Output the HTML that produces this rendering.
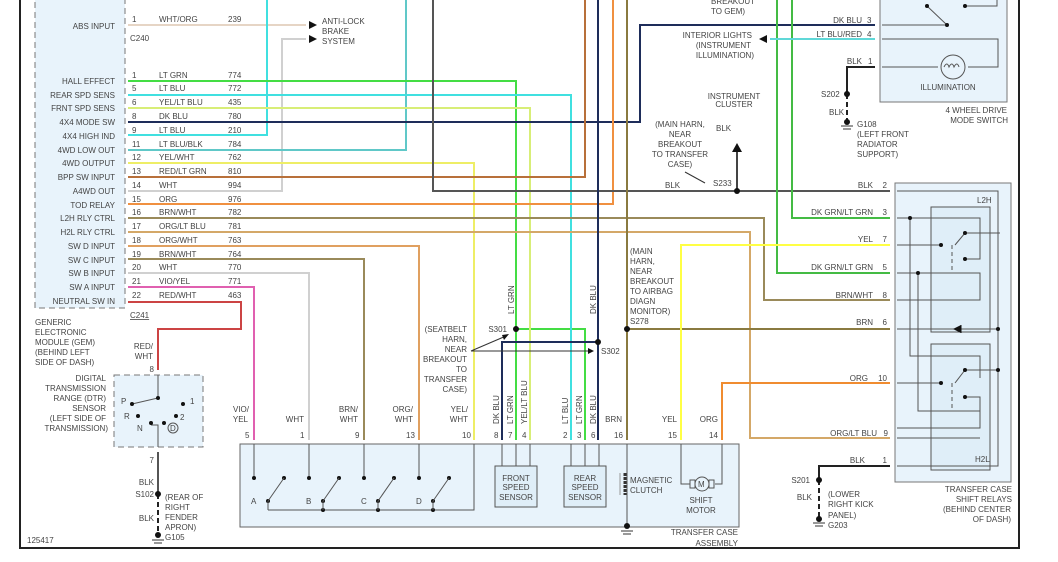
<!DOCTYPE html>
<html><head><meta charset="utf-8"><style>
html,body{margin:0;padding:0;background:#fff;width:1058px;height:562px;overflow:hidden}
svg{display:block}
text{font-family:"Liberation Sans",sans-serif;font-size:8px;fill:#444}
.w{fill:none;stroke-width:2}
.t{fill:none;stroke:#555;stroke-width:1}
</style></head><body>
<svg width="1058" height="562" viewBox="0 0 1058 562" xmlns="http://www.w3.org/2000/svg">
<path d="M20 0V548H1019V0" fill="none" stroke="#222" stroke-width="2"/>
<rect x="35" y="-2" width="90" height="310" fill="#e8f3fb" stroke="#777" stroke-dasharray="6,4"/>
<g text-anchor="end">
<text x="115" y="29">ABS INPUT</text>
<text x="115" y="84">HALL EFFECT</text><text x="115" y="98">REAR SPD SENS</text><text x="115" y="111">FRNT SPD SENS</text>
<text x="115" y="125">4X4 MODE SW</text><text x="115" y="139">4X4 HIGH IND</text><text x="115" y="153">4WD LOW OUT</text>
<text x="115" y="166">4WD OUTPUT</text><text x="115" y="180">BPP SW INPUT</text><text x="115" y="194">A4WD OUT</text>
<text x="115" y="208">TOD RELAY</text><text x="115" y="221">L2H RLY CTRL</text><text x="115" y="235">H2L RLY CTRL</text>
<text x="115" y="249">SW D INPUT</text><text x="115" y="263">SW C INPUT</text><text x="115" y="276">SW B INPUT</text>
<text x="115" y="290">SW A INPUT</text><text x="115" y="304">NEUTRAL SW IN</text>
</g>
<text x="130" y="41">C240</text><text x="130" y="318" text-decoration="underline">C241</text>
<g>
<text x="132" y="22">1</text><text x="159" y="22">WHT/ORG</text><text x="228" y="22">239</text>
<text x="132" y="78">1</text><text x="159" y="78">LT GRN</text><text x="228" y="78">774</text>
<text x="132" y="91">5</text><text x="159" y="91">LT BLU</text><text x="228" y="91">772</text>
<text x="132" y="105">6</text><text x="159" y="105">YEL/LT BLU</text><text x="228" y="105">435</text>
<text x="132" y="119">8</text><text x="159" y="119">DK BLU</text><text x="228" y="119">780</text>
<text x="132" y="133">9</text><text x="159" y="133">LT BLU</text><text x="228" y="133">210</text>
<text x="132" y="147">11</text><text x="159" y="147">LT BLU/BLK</text><text x="228" y="147">784</text>
<text x="132" y="160">12</text><text x="159" y="160">YEL/WHT</text><text x="228" y="160">762</text>
<text x="132" y="174">13</text><text x="159" y="174">RED/LT GRN</text><text x="228" y="174">810</text>
<text x="132" y="188">14</text><text x="159" y="188">WHT</text><text x="228" y="188">994</text>
<text x="132" y="202">15</text><text x="159" y="202">ORG</text><text x="228" y="202">976</text>
<text x="132" y="215">16</text><text x="159" y="215">BRN/WHT</text><text x="228" y="215">782</text>
<text x="132" y="229">17</text><text x="159" y="229">ORG/LT BLU</text><text x="228" y="229">781</text>
<text x="132" y="243">18</text><text x="159" y="243">ORG/WHT</text><text x="228" y="243">763</text>
<text x="132" y="257">19</text><text x="159" y="257">BRN/WHT</text><text x="228" y="257">764</text>
<text x="132" y="270">20</text><text x="159" y="270">WHT</text><text x="228" y="270">770</text>
<text x="132" y="284">21</text><text x="159" y="284">VIO/YEL</text><text x="228" y="284">771</text>
<text x="132" y="298">22</text><text x="159" y="298">RED/WHT</text><text x="228" y="298">463</text>
</g>
<text x="35" y="325">GENERIC</text><text x="35" y="335">ELECTRONIC</text><text x="35" y="345">MODULE (GEM)</text><text x="35" y="355">(BEHIND LEFT</text><text x="35" y="365">SIDE OF DASH)</text>

<path class="w" stroke="#e6d5c5" d="M128 25H306"/>
<path class="w" stroke="#d0d0d0" d="M128 191H282V39H306"/>
<path class="w" stroke="#40e0e0" d="M128 135H267V0"/>
<path class="w" stroke="#60c8c8" d="M128 150H406V0"/>
<path class="w" stroke="#44dd44" d="M128 81H516V329H585V440"/>
<path class="w" stroke="#44dd44" d="M516 329V440"/>
<path class="w" stroke="#40e0e0" d="M128 95H571V440"/>
<path class="w" stroke="#d8ee77" d="M128 108H530V440"/>
<path class="w" stroke="#1e2d5a" d="M128 122H640V25H875"/>
<path class="w" stroke="#eeee66" d="M128 163H474V440"/>
<path class="w" stroke="#b8703a" d="M128 177H585V0"/>
<path class="w" stroke="#f09040" d="M128 204H613V0"/>
<path class="w" stroke="#9a8a5a" d="M128 218H764V300H890"/>
<path class="w" stroke="#d4a868" d="M128 232H750V438H890"/>
<path class="w" stroke="#e0a060" d="M128 246H419V440"/>
<path class="w" stroke="#9a8a5a" d="M128 259H364V440"/>
<path class="w" stroke="#d0d0d0" d="M128 273H309V440"/>
<path class="w" stroke="#e060b0" d="M128 287H254V440"/>
<path class="w" stroke="#cc4444" d="M128 302H241V329H158V370"/>
<path class="w" stroke="#555" d="M433 0V191H890"/>
<path class="w" stroke="#8a7a40" d="M627 0V440M627 329H890"/>
<path class="w" stroke="#1e2d5a" d="M598 0V440M598 342H502V440"/>
<path class="w" stroke="#44bb44" d="M777 0V273H890M792 0V218H890"/>
<path class="w" stroke="#ffff44" d="M890 245H681V440"/>
<path class="w" stroke="#f08c30" d="M890 383H722V440"/>
<path class="w" stroke="#60d8d8" d="M875 39H770"/>
<path class="w" stroke="#222" d="M875 67H847V94M890 466H819V480"/>
<path d="M847 94V122M819 480V519M158 494V535" stroke="#222" stroke-width="2" stroke-dasharray="5,3"/>
<path class="w" stroke="#555" d="M158 452V494"/>
<path class="w" stroke="#444" d="M737 191V150"/>
<polygon points="737,143 732,152 742,152" fill="#111"/>
<polygon points="309,21 317,25 309,29" fill="#111"/><polygon points="309,35 317,39 309,43" fill="#111"/>
<polygon points="767,35 759,39 767,43" fill="#111"/>
<g fill="#111"><circle cx="516" cy="329" r="3"/><circle cx="598" cy="342" r="3"/><circle cx="627" cy="329" r="3"/><circle cx="737" cy="191" r="3"/><circle cx="847" cy="94" r="3"/><circle cx="819" cy="480" r="3"/><circle cx="158" cy="494" r="3"/><circle cx="847" cy="122" r="3"/><circle cx="819" cy="519" r="3"/><circle cx="158" cy="535" r="3"/></g>
<path d="M841 126h12M843 129h8M813 523h12M815 526h8M152 540h12M154 543h8M621 531h12M623 534h8" stroke="#333"/>
<text x="322" y="24">ANTI-LOCK</text><text x="322" y="34">BRAKE</text><text x="322" y="44">SYSTEM</text>
<text x="711" y="4">BREAKOUT</text><text x="711" y="14">TO GEM)</text>
<text x="752" y="38" text-anchor="end">INTERIOR LIGHTS</text><text x="751" y="48" text-anchor="end">(INSTRUMENT</text><text x="754" y="58" text-anchor="end">ILLUMINATION)</text>
<text x="734" y="99" text-anchor="middle">INSTRUMENT</text><text x="734" y="107" text-anchor="middle">CLUSTER</text>
<text x="716" y="131">BLK</text>
<g text-anchor="middle"><text x="680" y="127">(MAIN HARN,</text><text x="680" y="137">NEAR</text><text x="680" y="147">BREAKOUT</text><text x="680" y="157">TO TRANSFER</text><text x="680" y="167">CASE)</text></g>
<path d="M685 172L705 183" stroke="#333"/>
<text x="665" y="188">BLK</text><text x="713" y="186">S233</text>
<text x="862" y="23" text-anchor="end">DK BLU</text><text x="867" y="23">3</text>
<text x="862" y="37" text-anchor="end">LT BLU/RED</text><text x="867" y="37">4</text>
<text x="862" y="64" text-anchor="end">BLK</text><text x="868" y="64">1</text>
<text x="821" y="97">S202</text><text x="829" y="115">BLK</text>
<text x="857" y="127">G108</text><text x="857" y="137">(LEFT FRONT</text><text x="857" y="147">RADIATOR</text><text x="857" y="157">SUPPORT)</text>
<rect x="880" y="-2" width="127" height="104" fill="#e8f3fb" stroke="#777"/>
<path class="t" d="M882 25H947M882 39H998V67H968M882 67H938M927 6L947 25M965 6H997V-2"/>
<circle cx="927" cy="6" r="2" fill="#111"/><circle cx="947" cy="25" r="2" fill="#111"/><circle cx="965" cy="6" r="2" fill="#111"/>
<circle cx="953" cy="67" r="12" fill="none" stroke="#555"/>
<path d="M944 67q3-6 5 0q3-6 5 0q3-6 5 0" fill="none" stroke="#555"/>
<text x="948" y="90" text-anchor="middle">ILLUMINATION</text>
<text x="1007" y="113" text-anchor="end">4 WHEEL DRIVE</text><text x="1008" y="123" text-anchor="end">MODE SWITCH</text>
<rect x="895" y="183" width="116" height="299" fill="#e8f3fb" stroke="#777"/>
<rect x="931" y="207" width="59" height="125" fill="#dfeef8" stroke="#555"/>
<rect x="931" y="344" width="59" height="126" fill="#dfeef8" stroke="#555"/>
<path class="t" d="M897 191H998V466H897M897 218H980V259H965M897 245H941M897 273H980V300H897M897 300H941M955 245L965 233H1000M897 329H998M897 383H941M955 383L965 370H998M965 397H980V428H897M897 438H980M910 218V356H980V378M918 273V411H980"/>
<path d="M953 329l8-4v8z" fill="#111"/><path d="M961 325v8" stroke="#111"/>
<path d="M952 245v28M952 383v28" stroke="#555" stroke-dasharray="4,3"/>
<g fill="#111"><circle cx="941" cy="245" r="2"/><circle cx="965" cy="233" r="2"/><circle cx="965" cy="259" r="2"/><circle cx="910" cy="218" r="2"/><circle cx="918" cy="273" r="2"/><circle cx="998" cy="329" r="2"/><circle cx="941" cy="383" r="2"/><circle cx="965" cy="370" r="2"/><circle cx="965" cy="397" r="2"/><circle cx="998" cy="370" r="2"/></g>
<text x="977" y="203">L2H</text><text x="975" y="462">H2L</text>
<g text-anchor="end"><text x="873" y="188">BLK</text><text x="873" y="215">DK GRN/LT GRN</text><text x="873" y="242">YEL</text><text x="873" y="270">DK GRN/LT GRN</text><text x="873" y="298">BRN/WHT</text><text x="873" y="325">BRN</text><text x="868" y="381">ORG</text><text x="877" y="436">ORG/LT BLU</text><text x="865" y="463">BLK</text>
<text x="887" y="188">2</text><text x="887" y="215">3</text><text x="887" y="242">7</text><text x="887" y="270">5</text><text x="887" y="298">8</text><text x="887" y="325">6</text><text x="887" y="381">10</text><text x="888" y="436">9</text><text x="887" y="463">1</text>
<text x="1012" y="492">TRANSFER CASE</text><text x="1012" y="502">SHIFT RELAYS</text><text x="1011" y="512">(BEHIND CENTER</text><text x="1011" y="522">OF DASH)</text>
<text x="810" y="483">S201</text><text x="812" y="500">BLK</text></g>
<text x="828" y="497">(LOWER</text><text x="828" y="507">RIGHT KICK</text><text x="828" y="518">PANEL)</text><text x="828" y="528">G203</text>
<text x="630" y="254">(MAIN</text><text x="630" y="264">HARN,</text><text x="630" y="274">NEAR</text><text x="630" y="284">BREAKOUT</text><text x="630" y="294">TO AIRBAG</text><text x="630" y="304">DIAGN</text><text x="630" y="314">MONITOR)</text><text x="630" y="324">S278</text>
<text x="507" y="332" text-anchor="end">S301</text><text x="601" y="354">S302</text>
<g text-anchor="end"><text x="467" y="332">(SEATBELT</text><text x="467" y="342">HARN,</text><text x="467" y="352">NEAR</text><text x="467" y="362">BREAKOUT</text><text x="467" y="372">TO</text><text x="467" y="382">TRANSFER</text><text x="467" y="392">CASE)</text></g>
<path d="M471 351L506 336M471 351H590" stroke="#333"/>
<polygon points="509,334 502,335 504,340" fill="#111"/><polygon points="594,351 588,348 588,354" fill="#111"/>
<text transform="translate(514,314) rotate(-90)">LT GRN</text><text transform="translate(596,314) rotate(-90)">DK BLU</text>
<rect x="240" y="444" width="499" height="83" fill="#e8f3fb" stroke="#666"/>
<g class="t"><path d="M254 444V478M309 444V478M364 444V478M419 444V478M474 444V510H268M502 444V466M516 444V466M530 444V466M571 444V466M585 444V466M599 444V466M627 444V526M681 444V484H690M715 484H722V444"/></g>
<g fill="#111"><circle cx="254" cy="478" r="2"/><circle cx="309" cy="478" r="2"/><circle cx="364" cy="478" r="2"/><circle cx="419" cy="478" r="2"/><circle cx="268" cy="501" r="2"/><circle cx="284" cy="478" r="2"/><circle cx="323" cy="501" r="2"/><circle cx="339" cy="478" r="2"/><circle cx="378" cy="501" r="2"/><circle cx="394" cy="478" r="2"/><circle cx="433" cy="501" r="2"/><circle cx="449" cy="478" r="2"/><circle cx="323" cy="510" r="2"/><circle cx="378" cy="510" r="2"/><circle cx="433" cy="510" r="2"/><circle cx="627" cy="526" r="3"/></g>
<path class="t" d="M268 501L284 478M323 501V510M378 501V510M433 501V510M268 501V510M323 501L339 478M378 501L394 478M433 501L449 478"/>
<text x="251" y="504">A</text><text x="306" y="504">B</text><text x="361" y="504">C</text><text x="416" y="504">D</text>
<rect x="495" y="466" width="42" height="41" fill="#dfeef8" stroke="#555"/>
<rect x="564" y="466" width="42" height="41" fill="#dfeef8" stroke="#555"/>
<g text-anchor="middle"><text x="516" y="481">FRONT</text><text x="516" y="490">SPEED</text><text x="516" y="500">SENSOR</text>
<text x="585" y="481">REAR</text><text x="585" y="490">SPEED</text><text x="585" y="500">SENSOR</text>
<text x="701" y="503">SHIFT</text><text x="701" y="513">MOTOR</text></g>
<path d="M625 473v22" stroke="#333" stroke-width="3" stroke-dasharray="3,1"/><path d="M620 473v22" stroke="#999"/>
<text x="630" y="483">MAGNETIC</text><text x="630" y="493">CLUTCH</text>
<circle cx="702" cy="484" r="7" fill="none" stroke="#555"/><text x="698" y="487">M</text>
<path class="t" d="M690 480h5v8h-5zM709 480h5v8h-5z"/>
<text x="738" y="535" text-anchor="end">TRANSFER CASE</text><text x="738" y="546" text-anchor="end">ASSEMBLY</text>
<g><text x="245" y="438">5</text><text x="300" y="438">1</text><text x="355" y="438">9</text><text x="406" y="438">13</text><text x="462" y="438">10</text><text x="494" y="438">8</text><text x="508" y="438">7</text><text x="522" y="438">4</text><text x="563" y="438">2</text><text x="577" y="438">3</text><text x="591" y="438">6</text><text x="614" y="438">16</text><text x="668" y="438">15</text><text x="709" y="438">14</text></g>
<g text-anchor="end"><text x="249" y="412">VIO/</text><text x="248" y="422">YEL</text><text x="304" y="422">WHT</text><text x="358" y="412">BRN/</text><text x="358" y="422">WHT</text><text x="413" y="412">ORG/</text><text x="413" y="422">WHT</text><text x="468" y="412">YEL/</text><text x="468" y="422">WHT</text><text x="622" y="422">BRN</text><text x="677" y="422">YEL</text><text x="718" y="422">ORG</text></g>
<g><text transform="translate(499,424) rotate(-90)">DK BLU</text><text transform="translate(513,424) rotate(-90)">LT GRN</text><text transform="translate(527,424) rotate(-90)">YEL/LT BLU</text><text transform="translate(568,424) rotate(-90)">LT BLU</text><text transform="translate(582,424) rotate(-90)">LT GRN</text><text transform="translate(596,424) rotate(-90)">DK BLU</text></g>
<rect x="114" y="375" width="89" height="72" fill="#e8f3fb" stroke="#777" stroke-dasharray="6,4"/>
<path class="t" d="M158 375V398L132 404M158 447V425H151"/>
<g fill="#111"><circle cx="158" cy="398" r="2"/><circle cx="132" cy="404" r="2"/><circle cx="183" cy="404" r="2"/><circle cx="138" cy="416" r="2"/><circle cx="151" cy="423" r="2"/><circle cx="176" cy="416" r="2"/><circle cx="164" cy="423" r="2"/></g>
<circle cx="173" cy="428" r="5" fill="none" stroke="#555"/><text x="170" y="431">D</text>
<text x="121" y="404">P</text><text x="190" y="404">1</text><text x="124" y="419">R</text><text x="180" y="420">2</text><text x="137" y="431">N</text>
<g text-anchor="end"><text x="106" y="381">DIGITAL</text><text x="106" y="391">TRANSMISSION</text><text x="106" y="401">RANGE (DTR)</text><text x="106" y="411">SENSOR</text><text x="106" y="421">(LEFT SIDE OF</text><text x="108" y="431">TRANSMISSION)</text>
<text x="153" y="349">RED/</text><text x="153" y="359">WHT</text><text x="154" y="372">8</text><text x="154" y="463">7</text><text x="154" y="485">BLK</text><text x="154" y="497">S102</text><text x="154" y="521">BLK</text></g>
<text x="165" y="500">(REAR OF</text><text x="165" y="510">RIGHT</text><text x="165" y="520">FENDER</text><text x="165" y="530">APRON)</text><text x="165" y="540">G105</text>
<text x="27" y="543">125417</text>
</svg>
</body></html>
